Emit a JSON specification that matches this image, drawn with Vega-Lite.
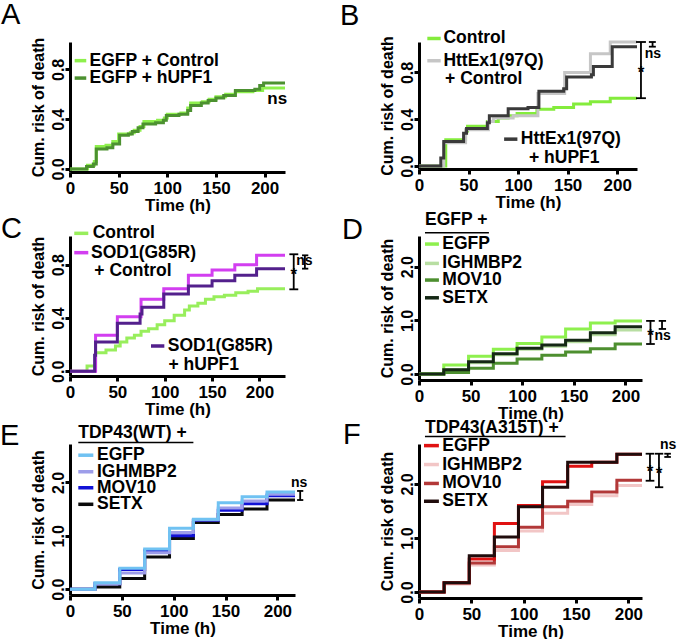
{
"$schema": "https://vega.github.io/schema/vega-lite/v6.json",
"padding": {"left": 0, "top": 0, "right": 0, "bottom": 0},
"config": {
 "view": {"stroke": null},
 "font": "Liberation Sans",
 "axis": {"grid": false, "domainColor": "#000", "domainWidth": 3, "tickColor": "#000", "tickWidth": 3, "tickSize": 5, "labelColor": "#000", "labelFont": "Liberation Sans", "labelFontWeight": "bold", "labelFontSize": 17, "titleColor": "#000", "titleFont": "Liberation Sans", "titleFontWeight": "bold", "titleFontSize": 17, "labelFlush": false, "labelOverlap": false},
 "axisX": {"labelPadding": 3, "titlePadding": 1, "labelFontWeight": "bold"},
 "axisY": {"labelAngle": -90, "labelAlign": "center", "labelBaseline": "alphabetic", "labelPadding": 2, "labelFontSize": 16, "titleFontSize": 16, "titlePadding": 4, "labelFontWeight": "bold"},
 "text": {"font": "Liberation Sans", "fontWeight": "bold", "fontSize": 17.5, "color": "#000"},
 "title": {"font": "Liberation Sans", "fontSize": 29, "fontWeight": "normal", "anchor": "start", "frame": "group", "baseline": "alphabetic", "color": "#000"}
},
"resolve": {"scale": {"color": "independent", "x": "independent", "y": "independent"}},
"columns": 2,
"bounds": "flush",
"align": "each",
"spacing": {"row": 64, "column": 124},
"concat": [
{
"width": 215, "height": 130,
"title": {"text": "A", "dx": -69, "offset": 4.4, "dy": -3},
"data": {"values": [{}]},
"layer": [
{"data": {"values": [
{"s":"EGFP + Control","t":0,"r":0},{"s":"EGFP + Control","t":18,"r":0.03},{"s":"EGFP + Control","t":25,"r":0.06},{"s":"EGFP + Control","t":27,"r":0.18},{"s":"EGFP + Control","t":37,"r":0.19},{"s":"EGFP + Control","t":44,"r":0.22},{"s":"EGFP + Control","t":50,"r":0.28},{"s":"EGFP + Control","t":62,"r":0.29},{"s":"EGFP + Control","t":66,"r":0.31},{"s":"EGFP + Control","t":72,"r":0.34},{"s":"EGFP + Control","t":76,"r":0.38},{"s":"EGFP + Control","t":90,"r":0.39},{"s":"EGFP + Control","t":97,"r":0.41},{"s":"EGFP + Control","t":100,"r":0.44},{"s":"EGFP + Control","t":114,"r":0.45},{"s":"EGFP + Control","t":121,"r":0.49},{"s":"EGFP + Control","t":124,"r":0.53},{"s":"EGFP + Control","t":136,"r":0.54},{"s":"EGFP + Control","t":143,"r":0.56},{"s":"EGFP + Control","t":150,"r":0.58},{"s":"EGFP + Control","t":160,"r":0.6},{"s":"EGFP + Control","t":170,"r":0.62},{"s":"EGFP + Control","t":188,"r":0.63},{"s":"EGFP + Control","t":198,"r":0.65},{"s":"EGFP + Control","t":221,"r":0.65},
{"s":"EGFP + hUPF1","t":0,"r":0},{"s":"EGFP + hUPF1","t":17,"r":0.02},{"s":"EGFP + hUPF1","t":24,"r":0.04},{"s":"EGFP + hUPF1","t":27,"r":0.16},{"s":"EGFP + hUPF1","t":38,"r":0.17},{"s":"EGFP + hUPF1","t":44,"r":0.2},{"s":"EGFP + hUPF1","t":51,"r":0.27},{"s":"EGFP + hUPF1","t":60,"r":0.28},{"s":"EGFP + hUPF1","t":64,"r":0.3},{"s":"EGFP + hUPF1","t":70,"r":0.33},{"s":"EGFP + hUPF1","t":75,"r":0.36},{"s":"EGFP + hUPF1","t":88,"r":0.37},{"s":"EGFP + hUPF1","t":96,"r":0.39},{"s":"EGFP + hUPF1","t":99,"r":0.43},{"s":"EGFP + hUPF1","t":112,"r":0.44},{"s":"EGFP + hUPF1","t":121,"r":0.47},{"s":"EGFP + hUPF1","t":124,"r":0.51},{"s":"EGFP + hUPF1","t":135,"r":0.53},{"s":"EGFP + hUPF1","t":142,"r":0.55},{"s":"EGFP + hUPF1","t":150,"r":0.57},{"s":"EGFP + hUPF1","t":158,"r":0.59},{"s":"EGFP + hUPF1","t":170,"r":0.63},{"s":"EGFP + hUPF1","t":190,"r":0.64},{"s":"EGFP + hUPF1","t":195,"r":0.67},{"s":"EGFP + hUPF1","t":199,"r":0.69},{"s":"EGFP + hUPF1","t":221,"r":0.69}
]},
"mark": {"type": "line", "interpolate": "step-after", "strokeWidth": 3},
"encoding": {
 "x": {"field": "t", "type": "quantitative", "scale": {"domain": [0, 221], "nice": false, "zero": false}, "axis": {"values": [0, 50, 100, 150, 200], "title": "Time (h)"}},
 "y": {"field": "r", "type": "quantitative", "scale": {"domain": [-0.025, 1.02], "nice": false, "zero": false}, "axis": {"values": [0, 0.2, 0.4, 0.6, 0.8, 1], "labelExpr": "round(datum.value*10)%4==0 ? format(datum.value,'.1f') : ''", "title": "Cum. risk of death"}},
 "color": {"field": "s", "type": "nominal", "scale": {"domain": ["EGFP + Control", "EGFP + hUPF1"], "range": ["#8ef04c", "#4c9130"]}, "legend": null}
}},
{"mark": {"type": "rule", "strokeWidth": 3.5}, "encoding": {"x": {"datum": 4.8}, "x2": {"datum": 16.7}, "y": {"datum": 0.87}, "color": {"datum": "EGFP + Control"}}},
{"mark": {"type": "text", "align": "left", "baseline": "middle"}, "encoding": {"x": {"datum": 20}, "y": {"datum": 0.87}, "text": {"value": "EGFP + Control"}}},
{"mark": {"type": "rule", "strokeWidth": 3.5}, "encoding": {"x": {"datum": 4.8}, "x2": {"datum": 16.7}, "y": {"datum": 0.73}, "color": {"datum": "EGFP + hUPF1"}}},
{"mark": {"type": "text", "align": "left", "baseline": "middle"}, "encoding": {"x": {"datum": 20}, "y": {"datum": 0.73}, "text": {"value": "EGFP + hUPF1"}}},
{"mark": {"type": "text", "align": "center", "baseline": "middle", "fontSize": 17}, "encoding": {"x": {"datum": 213}, "y": {"datum": 0.56}, "text": {"value": "ns"}}}
]
},
{
"width": 218, "height": 127,
"title": {"text": "B", "dx": -79, "offset": -1.1},
"data": {"values": [{}]},
"layer": [
{"data": {"values": [
{"s":"Control","t":0,"r":0},{"s":"Control","t":27,"r":0.225},{"s":"Control","t":47,"r":0.3},{"s":"Control","t":49,"r":0.34},{"s":"Control","t":69,"r":0.38},{"s":"Control","t":80,"r":0.41},{"s":"Control","t":90,"r":0.43},{"s":"Control","t":99,"r":0.45},{"s":"Control","t":119,"r":0.485},{"s":"Control","t":136,"r":0.5},{"s":"Control","t":156,"r":0.53},{"s":"Control","t":173,"r":0.55},{"s":"Control","t":193,"r":0.58},{"s":"Control","t":220,"r":0.58},
{"s":"HttEx1(97Q) + Control","t":0,"r":0},{"s":"HttEx1(97Q) + Control","t":25,"r":0.2},{"s":"HttEx1(97Q) + Control","t":47,"r":0.31},{"s":"HttEx1(97Q) + Control","t":70,"r":0.38},{"s":"HttEx1(97Q) + Control","t":75,"r":0.41},{"s":"HttEx1(97Q) + Control","t":95,"r":0.43},{"s":"HttEx1(97Q) + Control","t":120,"r":0.62},{"s":"HttEx1(97Q) + Control","t":147,"r":0.8},{"s":"HttEx1(97Q) + Control","t":173,"r":0.96},{"s":"HttEx1(97Q) + Control","t":193,"r":1.06},{"s":"HttEx1(97Q) + Control","t":220,"r":1.06},
{"s":"HttEx1(97Q) + hUPF1","t":0,"r":0},{"s":"HttEx1(97Q) + hUPF1","t":22,"r":0.07},{"s":"HttEx1(97Q) + hUPF1","t":25,"r":0.21},{"s":"HttEx1(97Q) + hUPF1","t":45,"r":0.28},{"s":"HttEx1(97Q) + hUPF1","t":48,"r":0.32},{"s":"HttEx1(97Q) + hUPF1","t":69,"r":0.37},{"s":"HttEx1(97Q) + hUPF1","t":71,"r":0.43},{"s":"HttEx1(97Q) + hUPF1","t":90,"r":0.49},{"s":"HttEx1(97Q) + hUPF1","t":110,"r":0.5},{"s":"HttEx1(97Q) + hUPF1","t":121,"r":0.64},{"s":"HttEx1(97Q) + hUPF1","t":146,"r":0.66},{"s":"HttEx1(97Q) + hUPF1","t":149,"r":0.76},{"s":"HttEx1(97Q) + hUPF1","t":174,"r":0.78},{"s":"HttEx1(97Q) + hUPF1","t":176,"r":0.85},{"s":"HttEx1(97Q) + hUPF1","t":195,"r":1.02},{"s":"HttEx1(97Q) + hUPF1","t":220,"r":1.02}
]},
"mark": {"type": "line", "interpolate": "step-after", "strokeWidth": 3},
"encoding": {
 "x": {"field": "t", "type": "quantitative", "scale": {"domain": [0, 220], "nice": false, "zero": false}, "axis": {"values": [0, 50, 100, 150, 200], "title": "Time (h)"}},
 "y": {"field": "r", "type": "quantitative", "scale": {"domain": [-0.025, 1.06], "nice": false, "zero": false}, "axis": {"values": [0, 0.2, 0.4, 0.6, 0.8, 1], "labelExpr": "round(datum.value*10)%4==0 ? format(datum.value,'.1f') : ''", "title": "Cum. risk of death"}},
 "color": {"field": "s", "type": "nominal", "scale": {"domain": ["Control", "HttEx1(97Q) + Control", "HttEx1(97Q) + hUPF1"], "range": ["#84ec3c", "#c6c6c6", "#3a3a3a"]}, "legend": null}
}},
{"mark": {"type": "rule", "strokeWidth": 3.5}, "encoding": {"x": {"datum": 8.4}, "x2": {"datum": 21.9}, "y": {"datum": 1.09}, "color": {"datum": "Control"}}},
{"mark": {"type": "text", "align": "left", "baseline": "middle"}, "encoding": {"x": {"datum": 24.6}, "y": {"datum": 1.09}, "text": {"value": "Control"}}},
{"mark": {"type": "rule", "strokeWidth": 3.5}, "encoding": {"x": {"datum": 8.4}, "x2": {"datum": 21.9}, "y": {"datum": 0.9}, "color": {"datum": "HttEx1(97Q) + Control"}}},
{"mark": {"type": "text", "align": "left", "baseline": "middle"}, "encoding": {"x": {"datum": 24.6}, "y": {"datum": 0.9}, "text": {"value": "HttEx1(97Q)"}}},
{"mark": {"type": "text", "align": "left", "baseline": "middle"}, "encoding": {"x": {"datum": 26.3}, "y": {"datum": 0.74}, "text": {"value": "+ Control"}}},
{"mark": {"type": "rule", "strokeWidth": 3.5}, "encoding": {"x": {"datum": 85.9}, "x2": {"datum": 99.3}, "y": {"datum": 0.23}, "color": {"datum": "HttEx1(97Q) + hUPF1"}}},
{"mark": {"type": "text", "align": "left", "baseline": "middle"}, "encoding": {"x": {"datum": 102.7}, "y": {"datum": 0.23}, "text": {"value": "HttEx1(97Q)"}}},
{"mark": {"type": "text", "align": "left", "baseline": "middle"}, "encoding": {"x": {"datum": 111}, "y": {"datum": 0.07}, "text": {"value": "+ hUPF1"}}},
{"mark": {"type": "rule", "strokeWidth": 1.8, "color": "#000"}, "encoding": {"x": {"datum": 224}, "y": {"datum": 1.06}, "y2": {"datum": 0.58}}},
{"mark": {"type": "rule", "strokeWidth": 1.8, "color": "#000"}, "encoding": {"x": {"datum": 219}, "x2": {"datum": 229}, "y": {"datum": 1.06}}},
{"mark": {"type": "rule", "strokeWidth": 1.8, "color": "#000"}, "encoding": {"x": {"datum": 219}, "x2": {"datum": 229}, "y": {"datum": 0.58}}},
{"mark": {"type": "rule", "strokeWidth": 1.8, "color": "#000"}, "encoding": {"x": {"datum": 235.7}, "y": {"datum": 1.06}, "y2": {"datum": 1.02}}},
{"mark": {"type": "rule", "strokeWidth": 1.8, "color": "#000"}, "encoding": {"x": {"datum": 232}, "x2": {"datum": 239}, "y": {"datum": 1.06}}},
{"mark": {"type": "rule", "strokeWidth": 1.8, "color": "#000"}, "encoding": {"x": {"datum": 232}, "x2": {"datum": 239}, "y": {"datum": 1.02}}},
{"mark": {"type": "text", "align": "center", "baseline": "middle", "fontSize": 14}, "encoding": {"x": {"datum": 236}, "y": {"datum": 0.96}, "text": {"value": "ns"}}},
{"mark": {"type": "text", "align": "center", "baseline": "middle", "fontSize": 17, "dy": 4}, "encoding": {"x": {"datum": 224}, "y": {"datum": 0.83}, "text": {"value": "*"}}}
]
},
{
"width": 215, "height": 140,
"title": {"text": "C", "dx": -69, "offset": 1.6, "dy": 21.5},
"data": {"values": [{}]},
"layer": [
{"data": {"values": [
{"s":"Control","t":0,"r":0},{"s":"Control","t":18,"r":0.04},{"s":"Control","t":27,"r":0.14},{"s":"Control","t":38,"r":0.16},{"s":"Control","t":48,"r":0.19},{"s":"Control","t":53,"r":0.22},{"s":"Control","t":60,"r":0.25},{"s":"Control","t":68,"r":0.27},{"s":"Control","t":75,"r":0.3},{"s":"Control","t":83,"r":0.32},{"s":"Control","t":92,"r":0.35},{"s":"Control","t":100,"r":0.38},{"s":"Control","t":110,"r":0.42},{"s":"Control","t":121,"r":0.46},{"s":"Control","t":126,"r":0.49},{"s":"Control","t":135,"r":0.51},{"s":"Control","t":143,"r":0.54},{"s":"Control","t":152,"r":0.56},{"s":"Control","t":163,"r":0.57},{"s":"Control","t":175,"r":0.59},{"s":"Control","t":188,"r":0.6},{"s":"Control","t":198,"r":0.62},{"s":"Control","t":227,"r":0.62},
{"s":"SOD1(G85R) + Control","t":0,"r":0},{"s":"SOD1(G85R) + Control","t":27,"r":0.27},{"s":"SOD1(G85R) + Control","t":50,"r":0.41},{"s":"SOD1(G85R) + Control","t":75,"r":0.54},{"s":"SOD1(G85R) + Control","t":99,"r":0.62},{"s":"SOD1(G85R) + Control","t":125,"r":0.72},{"s":"SOD1(G85R) + Control","t":150,"r":0.76},{"s":"SOD1(G85R) + Control","t":174,"r":0.8},{"s":"SOD1(G85R) + Control","t":197,"r":0.87},{"s":"SOD1(G85R) + Control","t":227,"r":0.87},
{"s":"SOD1(G85R) + hUPF1","t":0,"r":0},{"s":"SOD1(G85R) + hUPF1","t":26,"r":0.12},{"s":"SOD1(G85R) + hUPF1","t":27,"r":0.22},{"s":"SOD1(G85R) + hUPF1","t":50,"r":0.36},{"s":"SOD1(G85R) + hUPF1","t":74,"r":0.43},{"s":"SOD1(G85R) + hUPF1","t":76,"r":0.48},{"s":"SOD1(G85R) + hUPF1","t":99,"r":0.58},{"s":"SOD1(G85R) + hUPF1","t":125,"r":0.64},{"s":"SOD1(G85R) + hUPF1","t":150,"r":0.68},{"s":"SOD1(G85R) + hUPF1","t":174,"r":0.72},{"s":"SOD1(G85R) + hUPF1","t":197,"r":0.77},{"s":"SOD1(G85R) + hUPF1","t":227,"r":0.77}
]},
"mark": {"type": "line", "interpolate": "step-after", "strokeWidth": 3},
"encoding": {
 "x": {"field": "t", "type": "quantitative", "scale": {"domain": [0, 227], "nice": false, "zero": false}, "axis": {"values": [0, 50, 100, 150, 200], "title": "Time (h)"}},
 "y": {"field": "r", "type": "quantitative", "scale": {"domain": [-0.035, 1.015], "nice": false, "zero": false}, "axis": {"values": [0, 0.2, 0.4, 0.6, 0.8, 1], "labelExpr": "round(datum.value*10)%4==0 ? format(datum.value,'.1f') : ''", "title": "Cum. risk of death"}},
 "color": {"field": "s", "type": "nominal", "scale": {"domain": ["Control", "SOD1(G85R) + Control", "SOD1(G85R) + hUPF1"], "range": ["#98ee5c", "#d23ef0", "#53208c"]}, "legend": null}
}},
{"mark": {"type": "rule", "strokeWidth": 3.5}, "encoding": {"x": {"datum": 4.5}, "x2": {"datum": 19.3}, "y": {"datum": 1.035}, "color": {"datum": "Control"}}},
{"mark": {"type": "text", "align": "left", "baseline": "middle"}, "encoding": {"x": {"datum": 24}, "y": {"datum": 1.035}, "text": {"value": "Control"}}},
{"mark": {"type": "rule", "strokeWidth": 3.5}, "encoding": {"x": {"datum": 4.5}, "x2": {"datum": 19.3}, "y": {"datum": 0.89}, "color": {"datum": "SOD1(G85R) + Control"}}},
{"mark": {"type": "text", "align": "left", "baseline": "middle"}, "encoding": {"x": {"datum": 22.2}, "y": {"datum": 0.89}, "text": {"value": "SOD1(G85R)"}}},
{"mark": {"type": "text", "align": "left", "baseline": "middle"}, "encoding": {"x": {"datum": 25.7}, "y": {"datum": 0.75}, "text": {"value": "+ Control"}}},
{"mark": {"type": "rule", "strokeWidth": 3.5}, "encoding": {"x": {"datum": 85.5}, "x2": {"datum": 99.6}, "y": {"datum": 0.19}, "color": {"datum": "SOD1(G85R) + hUPF1"}}},
{"mark": {"type": "text", "align": "left", "baseline": "middle"}, "encoding": {"x": {"datum": 103.2}, "y": {"datum": 0.19}, "text": {"value": "SOD1(G85R)"}}},
{"mark": {"type": "text", "align": "left", "baseline": "middle"}, "encoding": {"x": {"datum": 104}, "y": {"datum": 0.047}, "text": {"value": "+ hUPF1"}}},
{"mark": {"type": "rule", "strokeWidth": 1.8, "color": "#000"}, "encoding": {"x": {"datum": 236.2}, "y": {"datum": 0.878}, "y2": {"datum": 0.615}}},
{"mark": {"type": "rule", "strokeWidth": 1.8, "color": "#000"}, "encoding": {"x": {"datum": 231.6}, "x2": {"datum": 241}, "y": {"datum": 0.878}}},
{"mark": {"type": "rule", "strokeWidth": 1.8, "color": "#000"}, "encoding": {"x": {"datum": 231.6}, "x2": {"datum": 241}, "y": {"datum": 0.615}}},
{"mark": {"type": "rule", "strokeWidth": 1.8, "color": "#000"}, "encoding": {"x": {"datum": 248}, "y": {"datum": 0.87}, "y2": {"datum": 0.77}}},
{"mark": {"type": "rule", "strokeWidth": 1.8, "color": "#000"}, "encoding": {"x": {"datum": 245}, "x2": {"datum": 251.6}, "y": {"datum": 0.87}}},
{"mark": {"type": "rule", "strokeWidth": 1.8, "color": "#000"}, "encoding": {"x": {"datum": 245}, "x2": {"datum": 251.6}, "y": {"datum": 0.77}}},
{"mark": {"type": "text", "align": "center", "baseline": "middle", "fontSize": 14}, "encoding": {"x": {"datum": 247.4}, "y": {"datum": 0.83}, "text": {"value": "ns"}}},
{"mark": {"type": "text", "align": "center", "baseline": "middle", "fontSize": 17, "dy": 4}, "encoding": {"x": {"datum": 236.2}, "y": {"datum": 0.75}, "text": {"value": "*"}}}
]
},
{
"width": 223, "height": 144,
"title": {"text": "D", "dx": -77, "offset": -34.6, "dy": -1},
"data": {"values": [{}]},
"layer": [
{"data": {"values": [
{"s":"IGHMBP2","t":0,"r":0},{"s":"IGHMBP2","t":24,"r":0.08},{"s":"IGHMBP2","t":48,"r":0.21},{"s":"IGHMBP2","t":72,"r":0.36},{"s":"IGHMBP2","t":95,"r":0.46},{"s":"IGHMBP2","t":119,"r":0.52},{"s":"IGHMBP2","t":142,"r":0.6},{"s":"IGHMBP2","t":166,"r":0.73},{"s":"IGHMBP2","t":190,"r":0.82},{"s":"IGHMBP2","t":216,"r":0.82},
{"s":"EGFP","t":0,"r":0},{"s":"EGFP","t":24,"r":0.17},{"s":"EGFP","t":48,"r":0.33},{"s":"EGFP","t":72,"r":0.46},{"s":"EGFP","t":95,"r":0.57},{"s":"EGFP","t":119,"r":0.69},{"s":"EGFP","t":142,"r":0.84},{"s":"EGFP","t":166,"r":0.95},{"s":"EGFP","t":190,"r":0.99},{"s":"EGFP","t":216,"r":0.99},
{"s":"MOV10","t":0,"r":0},{"s":"MOV10","t":24,"r":0.03},{"s":"MOV10","t":48,"r":0.11},{"s":"MOV10","t":72,"r":0.2},{"s":"MOV10","t":95,"r":0.28},{"s":"MOV10","t":119,"r":0.35},{"s":"MOV10","t":142,"r":0.41},{"s":"MOV10","t":166,"r":0.47},{"s":"MOV10","t":190,"r":0.56},{"s":"MOV10","t":216,"r":0.56},
{"s":"SETX","t":0,"r":0},{"s":"SETX","t":24,"r":0.08},{"s":"SETX","t":48,"r":0.23},{"s":"SETX","t":72,"r":0.38},{"s":"SETX","t":95,"r":0.48},{"s":"SETX","t":119,"r":0.54},{"s":"SETX","t":142,"r":0.63},{"s":"SETX","t":166,"r":0.77},{"s":"SETX","t":190,"r":0.88},{"s":"SETX","t":216,"r":0.88}
]},
"mark": {"type": "line", "interpolate": "step-after", "strokeWidth": 3},
"encoding": {
 "x": {"field": "t", "type": "quantitative", "scale": {"domain": [0, 216], "nice": false, "zero": false}, "axis": {"values": [0, 50, 100, 150, 200], "title": "Time (h)"}},
 "y": {"field": "r", "type": "quantitative", "scale": {"domain": [-0.11, 2.57], "nice": false, "zero": false}, "axis": {"values": [0, 0.5, 1, 1.5, 2, 2.5], "labelExpr": "datum.value%1==0 ? format(datum.value,'.1f') : ''", "title": "Cum. risk of death"}},
 "color": {"field": "s", "type": "nominal", "scale": {"domain": ["EGFP", "IGHMBP2", "MOV10", "SETX"], "range": ["#8ef04e", "#b8dea2", "#4d8f2f", "#152815"]}, "legend": null}
}},
{"mark": {"type": "text", "align": "left", "baseline": "middle"}, "encoding": {"x": {"datum": 5.8}, "y": {"datum": 2.86}, "text": {"value": "EGFP +"}}},
{"mark": {"type": "rule", "strokeWidth": 1.5, "color": "#000"}, "encoding": {"x": {"datum": 5.8}, "x2": {"datum": 67.7}, "y": {"datum": 2.63}}},
{"mark": {"type": "rule", "strokeWidth": 3.5}, "encoding": {"x": {"datum": 5.8}, "x2": {"datum": 19.3}, "y": {"datum": 2.42}, "color": {"datum": "EGFP"}}},
{"mark": {"type": "text", "align": "left", "baseline": "middle"}, "encoding": {"x": {"datum": 22.6}, "y": {"datum": 2.42}, "text": {"value": "EGFP"}}},
{"mark": {"type": "rule", "strokeWidth": 3.5}, "encoding": {"x": {"datum": 5.8}, "x2": {"datum": 19.3}, "y": {"datum": 2.06}, "color": {"datum": "IGHMBP2"}}},
{"mark": {"type": "text", "align": "left", "baseline": "middle"}, "encoding": {"x": {"datum": 22.6}, "y": {"datum": 2.06}, "text": {"value": "IGHMBP2"}}},
{"mark": {"type": "rule", "strokeWidth": 3.5}, "encoding": {"x": {"datum": 5.8}, "x2": {"datum": 19.3}, "y": {"datum": 1.75}, "color": {"datum": "MOV10"}}},
{"mark": {"type": "text", "align": "left", "baseline": "middle"}, "encoding": {"x": {"datum": 22.6}, "y": {"datum": 1.75}, "text": {"value": "MOV10"}}},
{"mark": {"type": "rule", "strokeWidth": 3.5}, "encoding": {"x": {"datum": 5.8}, "x2": {"datum": 19.3}, "y": {"datum": 1.42}, "color": {"datum": "SETX"}}},
{"mark": {"type": "text", "align": "left", "baseline": "middle"}, "encoding": {"x": {"datum": 22.6}, "y": {"datum": 1.42}, "text": {"value": "SETX"}}},
{"mark": {"type": "rule", "strokeWidth": 1.8, "color": "#000"}, "encoding": {"x": {"datum": 224.2}, "y": {"datum": 0.99}, "y2": {"datum": 0.56}}},
{"mark": {"type": "rule", "strokeWidth": 1.8, "color": "#000"}, "encoding": {"x": {"datum": 220}, "x2": {"datum": 228.4}, "y": {"datum": 0.99}}},
{"mark": {"type": "rule", "strokeWidth": 1.8, "color": "#000"}, "encoding": {"x": {"datum": 220}, "x2": {"datum": 228.4}, "y": {"datum": 0.56}}},
{"mark": {"type": "rule", "strokeWidth": 1.8, "color": "#000"}, "encoding": {"x": {"datum": 235.4}, "y": {"datum": 0.99}, "y2": {"datum": 0.84}}},
{"mark": {"type": "rule", "strokeWidth": 1.8, "color": "#000"}, "encoding": {"x": {"datum": 232.2}, "x2": {"datum": 239.3}, "y": {"datum": 0.99}}},
{"mark": {"type": "rule", "strokeWidth": 1.8, "color": "#000"}, "encoding": {"x": {"datum": 232.2}, "x2": {"datum": 239.3}, "y": {"datum": 0.84}}},
{"mark": {"type": "text", "align": "center", "baseline": "middle", "fontSize": 17, "dy": 4}, "encoding": {"x": {"datum": 224.2}, "y": {"datum": 0.78}, "text": {"value": "*"}}},
{"mark": {"type": "text", "align": "center", "baseline": "middle", "fontSize": 14}, "encoding": {"x": {"datum": 236}, "y": {"datum": 0.71}, "text": {"value": "ns"}}}
]
},
{
"width": 225, "height": 151,
"title": {"text": "E", "dx": -70, "offset": -28.7, "dy": -1},
"data": {"values": [{}]},
"layer": [
{"data": {"values": [
{"s":"SETX","t":0,"r":0},{"s":"SETX","t":24,"r":0.04},{"s":"SETX","t":48,"r":0.2},{"s":"SETX","t":72,"r":0.6},{"s":"SETX","t":96,"r":0.95},{"s":"SETX","t":119,"r":1.25},{"s":"SETX","t":143,"r":1.4},{"s":"SETX","t":166,"r":1.5},{"s":"SETX","t":190,"r":1.67},{"s":"SETX","t":217,"r":1.67},
{"s":"MOV10","t":0,"r":0},{"s":"MOV10","t":24,"r":0.1},{"s":"MOV10","t":48,"r":0.37},{"s":"MOV10","t":72,"r":0.72},{"s":"MOV10","t":96,"r":1.0},{"s":"MOV10","t":119,"r":1.29},{"s":"MOV10","t":143,"r":1.48},{"s":"MOV10","t":166,"r":1.6},{"s":"MOV10","t":190,"r":1.75},{"s":"MOV10","t":217,"r":1.75},
{"s":"IGHMBP2","t":0,"r":0},{"s":"IGHMBP2","t":24,"r":0.1},{"s":"IGHMBP2","t":48,"r":0.3},{"s":"IGHMBP2","t":72,"r":0.68},{"s":"IGHMBP2","t":96,"r":1.06},{"s":"IGHMBP2","t":119,"r":1.3},{"s":"IGHMBP2","t":143,"r":1.52},{"s":"IGHMBP2","t":166,"r":1.65},{"s":"IGHMBP2","t":190,"r":1.78},{"s":"IGHMBP2","t":217,"r":1.78},
{"s":"EGFP","t":0,"r":0},{"s":"EGFP","t":24,"r":0.12},{"s":"EGFP","t":48,"r":0.39},{"s":"EGFP","t":72,"r":0.75},{"s":"EGFP","t":96,"r":1.14},{"s":"EGFP","t":119,"r":1.31},{"s":"EGFP","t":143,"r":1.62},{"s":"EGFP","t":166,"r":1.73},{"s":"EGFP","t":190,"r":1.82},{"s":"EGFP","t":217,"r":1.82}
]},
"mark": {"type": "line", "interpolate": "step-after", "strokeWidth": 3},
"encoding": {
 "x": {"field": "t", "type": "quantitative", "scale": {"domain": [0, 217], "nice": false, "zero": false}, "axis": {"values": [0, 50, 100, 150, 200], "title": "Time (h)"}},
 "y": {"field": "r", "type": "quantitative", "scale": {"domain": [-0.11, 2.72], "nice": false, "zero": false}, "axis": {"values": [0, 0.5, 1, 1.5, 2, 2.5], "labelExpr": "datum.value%1==0 ? format(datum.value,'.1f') : ''", "title": "Cum. risk of death"}},
 "color": {"field": "s", "type": "nominal", "scale": {"domain": ["EGFP", "IGHMBP2", "MOV10", "SETX"], "range": ["#70c2f2", "#9d9de9", "#1212d6", "#0a0a0a"]}, "legend": null}
}},
{"mark": {"type": "text", "align": "left", "baseline": "middle"}, "encoding": {"x": {"datum": 8}, "y": {"datum": 2.93}, "text": {"value": "TDP43(WT) +"}}},
{"mark": {"type": "rule", "strokeWidth": 1.5, "color": "#000"}, "encoding": {"x": {"datum": 8}, "x2": {"datum": 119}, "y": {"datum": 2.75}}},
{"mark": {"type": "rule", "strokeWidth": 3.5}, "encoding": {"x": {"datum": 8}, "x2": {"datum": 22.5}, "y": {"datum": 2.51}, "color": {"datum": "EGFP"}}},
{"mark": {"type": "text", "align": "left", "baseline": "middle"}, "encoding": {"x": {"datum": 26}, "y": {"datum": 2.51}, "text": {"value": "EGFP"}}},
{"mark": {"type": "rule", "strokeWidth": 3.5}, "encoding": {"x": {"datum": 8}, "x2": {"datum": 22.5}, "y": {"datum": 2.2}, "color": {"datum": "IGHMBP2"}}},
{"mark": {"type": "text", "align": "left", "baseline": "middle"}, "encoding": {"x": {"datum": 26}, "y": {"datum": 2.2}, "text": {"value": "IGHMBP2"}}},
{"mark": {"type": "rule", "strokeWidth": 3.5}, "encoding": {"x": {"datum": 8}, "x2": {"datum": 22.5}, "y": {"datum": 1.9}, "color": {"datum": "MOV10"}}},
{"mark": {"type": "text", "align": "left", "baseline": "middle"}, "encoding": {"x": {"datum": 26}, "y": {"datum": 1.9}, "text": {"value": "MOV10"}}},
{"mark": {"type": "rule", "strokeWidth": 3.5}, "encoding": {"x": {"datum": 8}, "x2": {"datum": 22.5}, "y": {"datum": 1.59}, "color": {"datum": "SETX"}}},
{"mark": {"type": "text", "align": "left", "baseline": "middle"}, "encoding": {"x": {"datum": 26}, "y": {"datum": 1.59}, "text": {"value": "SETX"}}},
{"mark": {"type": "rule", "strokeWidth": 1.8, "color": "#000"}, "encoding": {"x": {"datum": 222}, "y": {"datum": 1.84}, "y2": {"datum": 1.67}}},
{"mark": {"type": "rule", "strokeWidth": 1.8, "color": "#000"}, "encoding": {"x": {"datum": 219}, "x2": {"datum": 225}, "y": {"datum": 1.84}}},
{"mark": {"type": "rule", "strokeWidth": 1.8, "color": "#000"}, "encoding": {"x": {"datum": 219}, "x2": {"datum": 225}, "y": {"datum": 1.67}}},
{"mark": {"type": "text", "align": "center", "baseline": "middle", "fontSize": 14}, "encoding": {"x": {"datum": 221}, "y": {"datum": 1.98}, "text": {"value": "ns"}}}
]
},
{
"width": 223, "height": 154,
"title": {"text": "F", "dx": -76, "offset": -31.6, "dy": 0},
"data": {"values": [{}]},
"layer": [
{"data": {"values": [
{"s":"IGHMBP2","t":0,"r":0},{"s":"IGHMBP2","t":24,"r":0.15},{"s":"IGHMBP2","t":48,"r":0.5},{"s":"IGHMBP2","t":72,"r":0.77},{"s":"IGHMBP2","t":95,"r":1.13},{"s":"IGHMBP2","t":118,"r":1.46},{"s":"IGHMBP2","t":142,"r":1.62},{"s":"IGHMBP2","t":165,"r":1.78},{"s":"IGHMBP2","t":189,"r":1.97},{"s":"IGHMBP2","t":213,"r":1.97},
{"s":"MOV10","t":0,"r":0},{"s":"MOV10","t":24,"r":0.17},{"s":"MOV10","t":48,"r":0.54},{"s":"MOV10","t":72,"r":0.84},{"s":"MOV10","t":95,"r":1.2},{"s":"MOV10","t":118,"r":1.58},{"s":"MOV10","t":142,"r":1.68},{"s":"MOV10","t":165,"r":1.85},{"s":"MOV10","t":189,"r":2.07},{"s":"MOV10","t":213,"r":2.07},
{"s":"EGFP","t":0,"r":0},{"s":"EGFP","t":24,"r":0.17},{"s":"EGFP","t":48,"r":0.61},{"s":"EGFP","t":72,"r":1.27},{"s":"EGFP","t":95,"r":1.6},{"s":"EGFP","t":118,"r":2.04},{"s":"EGFP","t":142,"r":2.33},{"s":"EGFP","t":165,"r":2.4},{"s":"EGFP","t":189,"r":2.55},{"s":"EGFP","t":213,"r":2.55},
{"s":"SETX","t":0,"r":0},{"s":"SETX","t":24,"r":0.17},{"s":"SETX","t":48,"r":0.67},{"s":"SETX","t":72,"r":1.02},{"s":"SETX","t":95,"r":1.58},{"s":"SETX","t":118,"r":1.94},{"s":"SETX","t":142,"r":2.4},{"s":"SETX","t":165,"r":2.4},{"s":"SETX","t":189,"r":2.55},{"s":"SETX","t":213,"r":2.55}
]},
"mark": {"type": "line", "interpolate": "step-after", "strokeWidth": 3},
"encoding": {
 "x": {"field": "t", "type": "quantitative", "scale": {"domain": [0, 213], "nice": false, "zero": false}, "axis": {"values": [0, 50, 100, 150, 200], "title": "Time (h)"}},
 "y": {"field": "r", "type": "quantitative", "scale": {"domain": [-0.11, 2.74], "nice": false, "zero": false}, "axis": {"values": [0, 0.5, 1, 1.5, 2, 2.5], "labelExpr": "datum.value%1==0 ? format(datum.value,'.1f') : ''", "title": "Cum. risk of death"}},
 "color": {"field": "s", "type": "nominal", "scale": {"domain": ["EGFP", "IGHMBP2", "MOV10", "SETX"], "range": ["#e01212", "#f2c6c6", "#b23838", "#200c0c"]}, "legend": null}
}},
{"mark": {"type": "text", "align": "left", "baseline": "middle"}, "encoding": {"x": {"datum": 5.7}, "y": {"datum": 3.04}, "text": {"value": "TDP43(A315T) +"}}},
{"mark": {"type": "rule", "strokeWidth": 1.5, "color": "#000"}, "encoding": {"x": {"datum": 5.7}, "x2": {"datum": 140}, "y": {"datum": 2.88}}},
{"mark": {"type": "rule", "strokeWidth": 3.5}, "encoding": {"x": {"datum": 4.8}, "x2": {"datum": 19}, "y": {"datum": 2.71}, "color": {"datum": "EGFP"}}},
{"mark": {"type": "text", "align": "left", "baseline": "middle"}, "encoding": {"x": {"datum": 22.2}, "y": {"datum": 2.71}, "text": {"value": "EGFP"}}},
{"mark": {"type": "rule", "strokeWidth": 3.5}, "encoding": {"x": {"datum": 4.8}, "x2": {"datum": 19}, "y": {"datum": 2.36}, "color": {"datum": "IGHMBP2"}}},
{"mark": {"type": "text", "align": "left", "baseline": "middle"}, "encoding": {"x": {"datum": 22.2}, "y": {"datum": 2.36}, "text": {"value": "IGHMBP2"}}},
{"mark": {"type": "rule", "strokeWidth": 3.5}, "encoding": {"x": {"datum": 4.8}, "x2": {"datum": 19}, "y": {"datum": 2.01}, "color": {"datum": "MOV10"}}},
{"mark": {"type": "text", "align": "left", "baseline": "middle"}, "encoding": {"x": {"datum": 22.2}, "y": {"datum": 2.01}, "text": {"value": "MOV10"}}},
{"mark": {"type": "rule", "strokeWidth": 3.5}, "encoding": {"x": {"datum": 4.8}, "x2": {"datum": 19}, "y": {"datum": 1.68}, "color": {"datum": "SETX"}}},
{"mark": {"type": "text", "align": "left", "baseline": "middle"}, "encoding": {"x": {"datum": 22.2}, "y": {"datum": 1.68}, "text": {"value": "SETX"}}},
{"mark": {"type": "rule", "strokeWidth": 1.8, "color": "#000"}, "encoding": {"x": {"datum": 220.6}, "y": {"datum": 2.56}, "y2": {"datum": 2.06}}},
{"mark": {"type": "rule", "strokeWidth": 1.8, "color": "#000"}, "encoding": {"x": {"datum": 216.5}, "x2": {"datum": 224.8}, "y": {"datum": 2.56}}},
{"mark": {"type": "rule", "strokeWidth": 1.8, "color": "#000"}, "encoding": {"x": {"datum": 216.5}, "x2": {"datum": 224.8}, "y": {"datum": 2.06}}},
{"mark": {"type": "rule", "strokeWidth": 1.8, "color": "#000"}, "encoding": {"x": {"datum": 229.2}, "y": {"datum": 2.56}, "y2": {"datum": 1.94}}},
{"mark": {"type": "rule", "strokeWidth": 1.8, "color": "#000"}, "encoding": {"x": {"datum": 225.4}, "x2": {"datum": 233.3}, "y": {"datum": 2.56}}},
{"mark": {"type": "rule", "strokeWidth": 1.8, "color": "#000"}, "encoding": {"x": {"datum": 225.4}, "x2": {"datum": 233.3}, "y": {"datum": 1.94}}},
{"mark": {"type": "rule", "strokeWidth": 1.8, "color": "#000"}, "encoding": {"x": {"datum": 237.5}, "y": {"datum": 2.56}, "y2": {"datum": 2.5}}},
{"mark": {"type": "rule", "strokeWidth": 1.8, "color": "#000"}, "encoding": {"x": {"datum": 234.3}, "x2": {"datum": 240.6}, "y": {"datum": 2.56}}},
{"mark": {"type": "rule", "strokeWidth": 1.8, "color": "#000"}, "encoding": {"x": {"datum": 234.3}, "x2": {"datum": 240.6}, "y": {"datum": 2.5}}},
{"mark": {"type": "text", "align": "center", "baseline": "middle", "fontSize": 17, "dy": 4}, "encoding": {"x": {"datum": 220.6}, "y": {"datum": 2.3}, "text": {"value": "*"}}},
{"mark": {"type": "text", "align": "center", "baseline": "middle", "fontSize": 17, "dy": 4}, "encoding": {"x": {"datum": 229.2}, "y": {"datum": 2.25}, "text": {"value": "*"}}},
{"mark": {"type": "text", "align": "center", "baseline": "middle", "fontSize": 14}, "encoding": {"x": {"datum": 238}, "y": {"datum": 2.72}, "text": {"value": "ns"}}}
]
}
]
}
